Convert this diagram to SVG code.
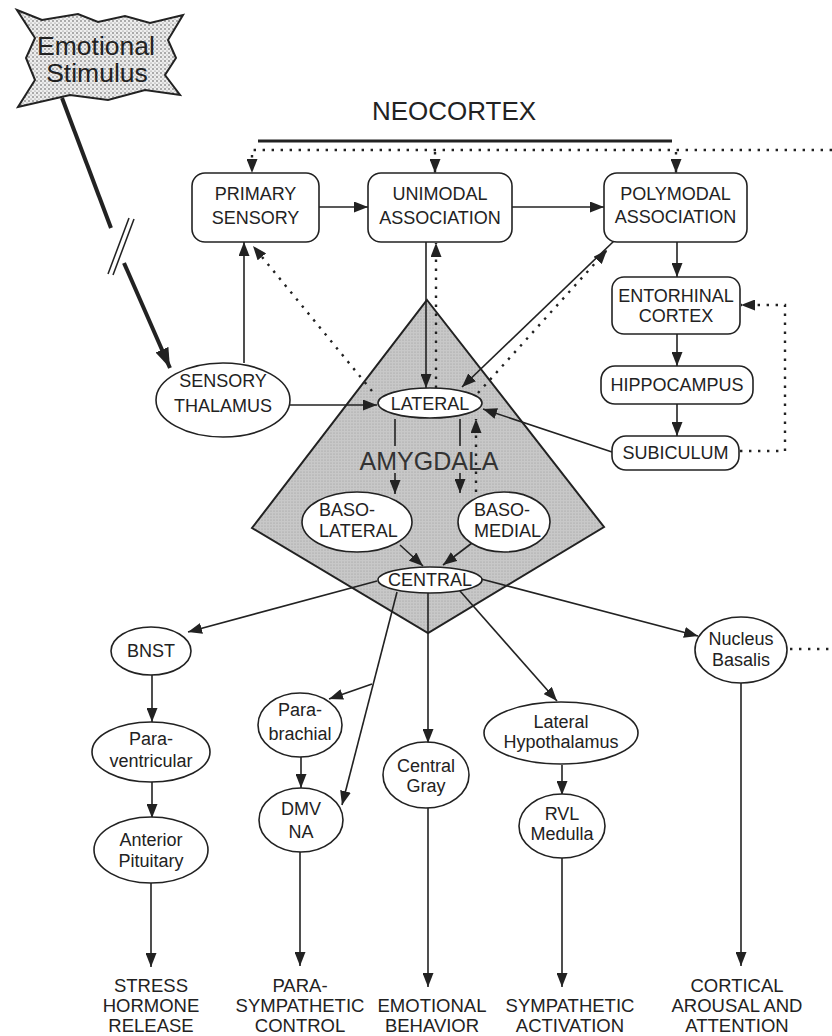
<svg xmlns="http://www.w3.org/2000/svg" width="832" height="1036" viewBox="0 0 832 1036">
<style>
text{font-family:"Liberation Sans",Arial,Helvetica,sans-serif;fill:#222;text-anchor:middle}
.t{font-size:18px}
.b{font-size:18.5px}
.box{fill:#fff;stroke:#222;stroke-width:1.6}
.ell{fill:#fff;stroke:#222;stroke-width:1.6}
.ln{fill:none;stroke:#222;stroke-width:1.6}
.ar{fill:none;stroke:#222;stroke-width:1.6;marker-end:url(#ah)}
.dt{fill:none;stroke:#222;stroke-width:2.4;stroke-dasharray:2.4 6.6}
.dta{fill:none;stroke:#222;stroke-width:2.4;stroke-dasharray:2.4 6.6;marker-end:url(#ahd)}
</style>
<defs>
<marker id="ah" viewBox="0 0 14 11" refX="14" refY="5.5" markerWidth="14" markerHeight="11" markerUnits="userSpaceOnUse" orient="auto"><path d="M0,0 L14,5.5 L0,11 z" fill="#222"/></marker>
<marker id="ahd" viewBox="0 0 14 11" refX="14" refY="5.5" markerWidth="14" markerHeight="11" markerUnits="userSpaceOnUse" orient="auto"><path d="M0,0 L14,5.5 L0,11 z" fill="#222"/></marker>
<marker id="ahb" viewBox="0 0 20 14" refX="20" refY="7" markerWidth="20" markerHeight="14" markerUnits="userSpaceOnUse" orient="auto"><path d="M0,0 L20,7 L0,14 z" fill="#222"/></marker>
<pattern id="stip" width="4" height="4" patternUnits="userSpaceOnUse"><rect width="4" height="4" fill="#eeeeee"/><circle cx="1" cy="1" r="0.8" fill="#555"/><circle cx="3" cy="3" r="0.6" fill="#777"/></pattern>
<pattern id="gray" width="3" height="3" patternUnits="userSpaceOnUse"><rect width="3" height="3" fill="#c8c8c8"/><circle cx="1" cy="1" r="0.6" fill="#999"/></pattern>
</defs>
<rect width="832" height="1036" fill="#fff"/>

<g id="stimulus">
<polygon points="17,10 42,20 78,14 98,22 125,16 150,23 183,15 168,40 176,58 165,75 180,95 145,90 108,100 70,95 18,107 35,80 26,58 35,38" fill="url(#stip)" stroke="#222" stroke-width="2"/>
<text x="96" y="55" style="font-size:26.5px">Emotional</text>
<text x="97" y="82" style="font-size:26.5px">Stimulus</text>
</g>

<g id="neocortex-label">
<text x="454" y="120" style="font-size:26px">NEOCORTEX</text>
</g>

<g id="amygdala">
<polygon points="427,300 604,527 428,633 252,528" fill="url(#gray)" stroke="#222" stroke-width="2"/>
</g>

<g id="connectors">
<line x1="258" y1="141" x2="672" y2="141" stroke="#222" stroke-width="3"/>
<path class="dta" d="M832,150 L252,150 L252,173"/>
<line class="dta" x1="435" y1="152" x2="435" y2="173"/>
<line class="dta" x1="676" y1="152" x2="676" y2="173"/>
<line x1="62" y1="98" x2="111" y2="228" stroke="#222" stroke-width="4"/>
<line x1="124" y1="263" x2="170" y2="368" stroke="#222" stroke-width="4" marker-end="url(#ahb)"/>
<line x1="108" y1="274" x2="129" y2="218" stroke="#222" stroke-width="1.5"/>
<line x1="113" y1="275" x2="134" y2="219" stroke="#222" stroke-width="1.5"/>
<line class="ar" x1="319" y1="207" x2="368" y2="207"/>
<line class="ar" x1="512" y1="207" x2="604" y2="207"/>
<line class="ar" x1="677" y1="242" x2="677" y2="277"/>
<line class="ar" x1="677" y1="334" x2="677" y2="366"/>
<line class="ar" x1="677" y1="404" x2="677" y2="436"/>
<path class="dta" d="M740,451 L785,451 L785,305 L741,305"/>
<line class="ar" x1="612" y1="452" x2="483" y2="409"/>
<line class="ar" x1="244" y1="363" x2="244" y2="242"/>
<line class="ar" x1="290" y1="405" x2="377" y2="405"/>
<line class="ar" x1="426" y1="242" x2="426" y2="388"/>
<line class="dta" x1="436" y1="388" x2="436" y2="243"/>
<line class="ar" x1="614" y1="241" x2="462" y2="387"/>
<line class="dta" x1="478" y1="393" x2="607" y2="250"/>
<line class="dta" x1="372" y1="391" x2="253" y2="246"/>
<line class="ln" x1="395" y1="419" x2="395" y2="446"/>
<line class="ar" x1="395" y1="473" x2="395" y2="494"/>
<line class="ln" x1="460" y1="419" x2="460" y2="446"/>
<line class="ar" x1="460" y1="473" x2="460" y2="493"/>
<line class="dta" x1="476" y1="492" x2="476" y2="419"/>
<line class="ar" x1="400" y1="545" x2="423" y2="566"/>
<line class="ar" x1="472" y1="543" x2="443" y2="565"/>
<line class="ar" x1="377" y1="581" x2="188" y2="632"/>
<line class="ar" x1="397" y1="592" x2="342" y2="805"/>
<line class="ar" x1="372" y1="684" x2="329" y2="699"/>
<line class="ar" x1="301" y1="757" x2="301" y2="788"/>
<line class="ar" x1="428" y1="593" x2="428" y2="743"/>
<line class="ar" x1="460" y1="591" x2="557" y2="701"/>
<line class="ar" x1="481" y1="579" x2="698" y2="636"/>
<line class="ar" x1="152" y1="675" x2="152" y2="722"/>
<line class="ar" x1="152" y1="782" x2="152" y2="818"/>
<line class="ar" x1="151" y1="883" x2="151" y2="967"/>
<line class="ar" x1="300" y1="852" x2="300" y2="966"/>
<line class="ar" x1="428" y1="808" x2="428" y2="987"/>
<line class="ar" x1="562" y1="765" x2="562" y2="795"/>
<line class="ar" x1="562" y1="858" x2="562" y2="987"/>
<line class="ar" x1="741" y1="683" x2="741" y2="966"/>
<line class="dt" x1="790" y1="649" x2="832" y2="649"/>
</g>

<g id="amygdala-label">
<text x="429" y="470" style="font-size:25px;fill:#333">AMYGDALA</text>
</g>

<g id="primary-sensory"><rect class="box" x="192" y="173" width="127" height="69" rx="13"/><text class="t" x="255.5" y="200">PRIMARY</text><text class="t" x="255.5" y="224">SENSORY</text></g>
<g id="unimodal-association"><rect class="box" x="368" y="173" width="144" height="69" rx="13"/><text class="t" x="440" y="200">UNIMODAL</text><text class="t" x="440" y="224">ASSOCIATION</text></g>
<g id="polymodal-association"><rect class="box" x="604" y="173" width="143" height="69" rx="13"/><text class="t" x="675.5" y="200">POLYMODAL</text><text class="t" x="675.5" y="223">ASSOCIATION</text></g>
<g id="entorhinal-cortex"><rect class="box" x="612" y="277" width="128" height="57" rx="12"/><text class="t" x="676" y="302">ENTORHINAL</text><text class="t" x="676" y="322">CORTEX</text></g>
<g id="hippocampus"><rect class="box" x="601" y="366" width="152" height="38" rx="14"/><text class="t" x="677" y="391">HIPPOCAMPUS</text></g>
<g id="subiculum"><rect class="box" x="612" y="436" width="127" height="34" rx="14"/><text class="t" x="675.5" y="459">SUBICULUM</text></g>

<g id="sensory-thalamus"><ellipse class="ell" cx="223" cy="400" rx="67" ry="37"/><text class="t" x="223" y="387">SENSORY</text><text class="t" x="223" y="412">THALAMUS</text></g>
<g id="lateral"><ellipse class="ell" cx="430" cy="403" rx="52" ry="15"/><text class="t" x="430" y="410">LATERAL</text></g>
<g id="basolateral"><ellipse class="ell" cx="357" cy="522" rx="55" ry="30"/><text class="t" x="319" y="516" style="text-anchor:start">BASO-</text><text class="t" x="319" y="537" style="text-anchor:start">LATERAL</text></g>
<g id="basomedial"><ellipse class="ell" cx="504" cy="522" rx="46" ry="30"/><text class="t" x="474" y="516" style="text-anchor:start">BASO-</text><text class="t" x="474" y="537" style="text-anchor:start">MEDIAL</text></g>
<g id="central"><ellipse class="ell" cx="430" cy="580" rx="52" ry="13"/><text class="t" x="430" y="586">CENTRAL</text></g>

<g id="bnst"><ellipse class="ell" cx="151" cy="651" rx="40" ry="24"/><text class="t" x="151" y="657">BNST</text></g>
<g id="paraventricular"><ellipse class="ell" cx="151" cy="752" rx="59" ry="30"/><text class="t" x="151" y="745">Para-</text><text class="t" x="151" y="767">ventricular</text></g>
<g id="anterior-pituitary"><ellipse class="ell" cx="151" cy="850" rx="57" ry="33"/><text class="t" x="151" y="846">Anterior</text><text class="t" x="151" y="867">Pituitary</text></g>
<g id="parabrachial"><ellipse class="ell" cx="300" cy="725" rx="42" ry="32"/><text class="t" x="300" y="716">Para-</text><text class="t" x="300" y="740">brachial</text></g>
<g id="dmv-na"><ellipse class="ell" cx="301" cy="820" rx="42" ry="32"/><text class="t" x="301" y="815">DMV</text><text class="t" x="301" y="838">NA</text></g>
<g id="central-gray"><ellipse class="ell" cx="426" cy="775" rx="43" ry="33"/><text class="t" x="426" y="772">Central</text><text class="t" x="426" y="792">Gray</text></g>
<g id="lateral-hypothalamus"><ellipse class="ell" cx="561" cy="733" rx="77" ry="31"/><text class="t" x="561" y="728">Lateral</text><text class="t" x="561" y="748">Hypothalamus</text></g>
<g id="rvl-medulla"><ellipse class="ell" cx="562" cy="826" rx="43" ry="32"/><text class="t" x="562" y="820">RVL</text><text class="t" x="562" y="840">Medulla</text></g>
<g id="nucleus-basalis"><ellipse class="ell" cx="741" cy="650" rx="46" ry="33"/><text class="t" x="741" y="645">Nucleus</text><text class="t" x="741" y="666">Basalis</text></g>

<g id="out-stress"><text class="b" x="151" y="992">STRESS</text><text class="b" x="151" y="1012">HORMONE</text><text class="b" x="151" y="1032">RELEASE</text></g>
<g id="out-parasympathetic"><text class="b" x="300" y="992">PARA-</text><text class="b" x="300" y="1012">SYMPATHETIC</text><text class="b" x="300" y="1032">CONTROL</text></g>
<g id="out-emotional"><text class="b" x="432" y="1012">EMOTIONAL</text><text class="b" x="432" y="1032">BEHAVIOR</text></g>
<g id="out-sympathetic"><text class="b" x="570" y="1012">SYMPATHETIC</text><text class="b" x="570" y="1032">ACTIVATION</text></g>
<g id="out-cortical"><text class="b" x="737" y="992">CORTICAL</text><text class="b" x="737" y="1012">AROUSAL AND</text><text class="b" x="737" y="1032">ATTENTION</text></g>
</svg>
